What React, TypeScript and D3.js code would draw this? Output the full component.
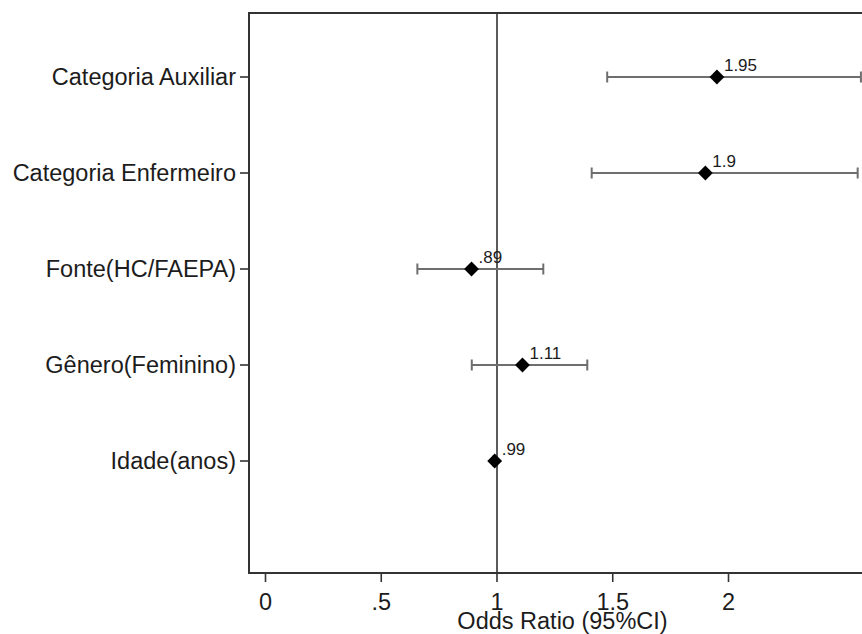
import React from "react";
import * as d3 from "d3";

const categories = [
  "Categoria Auxiliar",
  "Categoria Enfermeiro",
  "Fonte(HC/FAEPA)",
  "Gênero(Feminino)",
  "Idade(anos)",
];
const oddsRatio = [1.95, 1.9, 0.89, 1.11, 0.99];
const ciLower = [1.476, 1.409, 0.656, 0.891, 0.985];
const ciUpper = [2.572, 2.558, 1.2, 1.39, 0.995];
const valueLabels = ["1.95", "1.9", ".89", "1.11", ".99"];
const xTicks = [0, 0.5, 1, 1.5, 2];
const xTickLabels = ["0", ".5", "1", "1.5", "2"];
const xTitle = "Odds Ratio (95%CI)";

const W = 862;
const H = 634;
const FONT = "'Liberation Sans', Arial, sans-serif";

export default function App() {
  const frameLeft = 249;
  const frameRight = 876;
  const frameTop = 13;
  const frameBottom = 573;

  const x = d3.scaleLinear().domain([0, 1]).range([265.5, 497]);
  const y = d3.scalePoint<string>().domain(categories).range([77, 461]);

  const diamond = d3.symbol().type(d3.symbolSquare).size(110)() as string;
  const textColor = "#1c1c1c";
  const lineColor = "#6e6e6e";
  const frameColor = "#333";

  return (
    <svg
      width={W}
      height={H}
      style={{ position: "absolute", left: 0, top: 0, background: "#fff" }}
      fontFamily={FONT}
    >
      <rect x={0} y={0} width={W} height={H} fill="#fff" />
      {/* frame */}
      <line x1={frameLeft} x2={frameRight} y1={frameTop} y2={frameTop} stroke={frameColor} strokeWidth={2} />
      <line x1={frameLeft} x2={frameRight} y1={frameBottom} y2={frameBottom} stroke={frameColor} strokeWidth={2} />
      <line x1={frameLeft} x2={frameLeft} y1={frameTop - 1} y2={frameBottom + 1} stroke={frameColor} strokeWidth={2} />
      {/* reference line at 1 */}
      <line x1={x(1)} x2={x(1)} y1={frameTop} y2={frameBottom} stroke={frameColor} strokeWidth={1.6} />

      {/* y axis ticks & labels */}
      {categories.map((c) => (
        <g key={c}>
          <line x1={frameLeft - 9} x2={frameLeft} y1={y(c)} y2={y(c)} stroke={frameColor} strokeWidth={1.6} />
          <text
            x={frameLeft - 13}
            y={y(c)}
            dy="0.36em"
            textAnchor="end"
            fontSize={23.5}
            fill={textColor}
          >
            {c}
          </text>
        </g>
      ))}

      {/* x axis ticks & labels */}
      {xTicks.map((t, i) => (
        <g key={t}>
          <line x1={x(t)} x2={x(t)} y1={frameBottom} y2={frameBottom + 9} stroke={frameColor} strokeWidth={1.6} />
          <text x={x(t)} y={610} textAnchor="middle" fontSize={23.5} fill={textColor}>
            {xTickLabels[i]}
          </text>
        </g>
      ))}
      <text
        x={(frameLeft + frameRight) / 2}
        y={629}
        textAnchor="middle"
        fontSize={23.5}
        fill={textColor}
      >
        {xTitle}
      </text>

      {/* CIs and markers */}
      {categories.map((c, i) => {
        const yy = y(c) as number;
        return (
          <g key={"ci" + c}>
            <line x1={x(ciLower[i])} x2={x(ciUpper[i])} y1={yy} y2={yy} stroke={lineColor} strokeWidth={2} />
            <line x1={x(ciLower[i])} x2={x(ciLower[i])} y1={yy - 5.5} y2={yy + 5.5} stroke={lineColor} strokeWidth={2} />
            <line x1={x(ciUpper[i])} x2={x(ciUpper[i])} y1={yy - 5.5} y2={yy + 5.5} stroke={lineColor} strokeWidth={2} />
            <path d={diamond} transform={`translate(${x(oddsRatio[i])},${yy}) rotate(45)`} fill="#000" />
            <text x={x(oddsRatio[i]) + 7} y={yy - 6} fontSize={17} fill={textColor}>
              {valueLabels[i]}
            </text>
          </g>
        );
      })}
    </svg>
  );
}
